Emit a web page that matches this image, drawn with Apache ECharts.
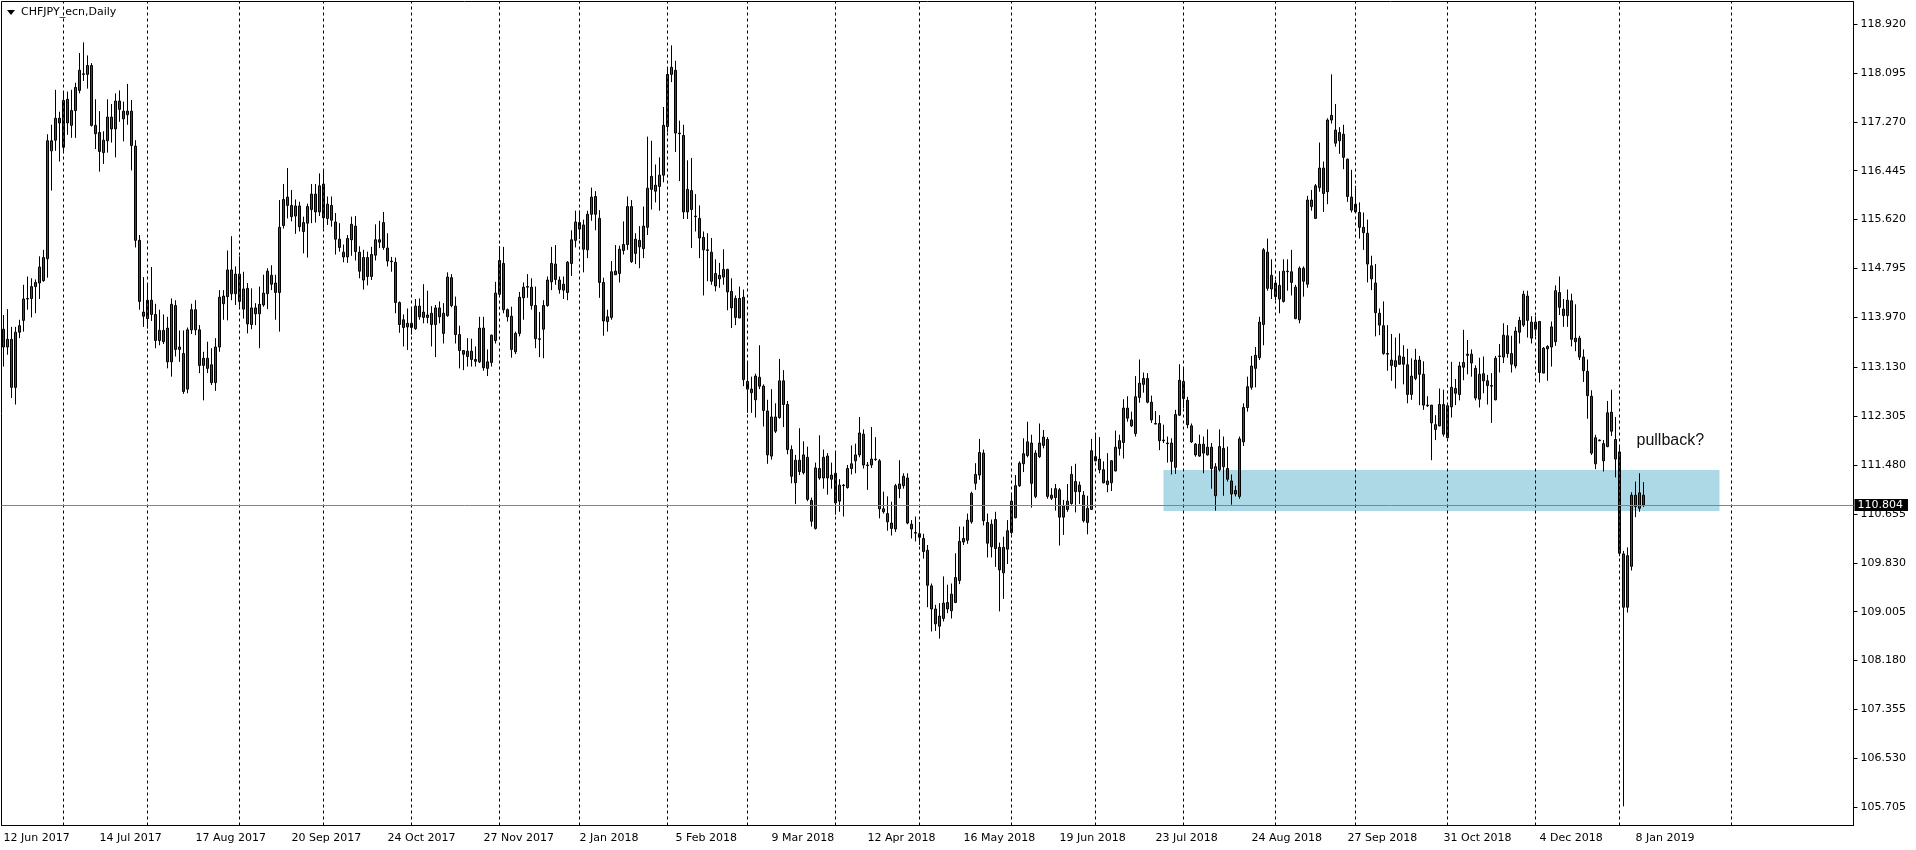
<!DOCTYPE html>
<html><head><meta charset="utf-8">
<script src="https://cdn.jsdelivr.net/npm/echarts/dist/echarts.min.js"></script>
<style>html,body{margin:0;padding:0;background:#fff;}#c{width:1916px;height:850px;}</style>
</head><body><div id="c"></div>
<script>
// ---- data ----
const openP = [
113.77,113.47,113.60,112.79,113.72,113.92,114.28,114.29,114.49,114.55,
114.59,114.96,116.78,116.96,117.33,116.84,117.65,117.21,117.46,117.80,
118.08,118.07,118.22,117.21,117.09,116.75,116.95,117.35,117.15,117.62,
117.45,117.39,117.45,116.86,115.27,114.06,113.95,114.26,114.02,113.58,
113.56,113.79,113.22,114.17,113.43,113.36,112.76,113.76,114.10,113.76,
113.16,113.28,113.17,112.87,113.47,114.20,114.32,114.77,114.37,114.70,
114.11,114.46,113.85,114.13,114.03,114.18,114.37,114.68,114.55,114.39,
115.52,116.00,115.86,115.68,115.85,115.57,115.56,115.79,116.05,115.75,
116.22,115.64,115.86,115.58,115.29,115.07,114.99,115.28,115.51,115.07,
114.60,114.98,114.66,115.02,115.28,115.57,115.14,114.92,114.90,114.22,
113.93,113.81,113.87,113.78,114.16,114.06,113.97,114.04,113.85,114.13,
113.70,114.00,114.64,114.16,113.68,113.41,113.31,113.40,113.26,113.22,
113.79,113.11,113.21,113.58,114.36,114.88,114.10,113.99,113.39,113.70,
114.30,114.48,114.48,114.17,113.61,113.77,114.17,114.57,114.87,114.60,
114.53,114.39,114.88,115.27,115.57,115.53,115.11,115.71,116.01,115.64,
114.56,113.90,113.97,114.69,114.71,115.10,115.20,115.84,115.05,115.27,
115.13,115.49,116.13,116.10,116.18,116.37,117.19,118.07,118.14,117.08,
117.04,115.75,116.11,115.68,115.64,115.32,115.11,115.07,114.50,114.68,
114.65,114.78,114.41,114.29,113.96,114.31,112.89,112.76,112.58,112.96,
112.81,112.39,111.63,112.05,112.28,112.90,112.50,111.74,111.18,111.56,
111.35,111.61,110.88,110.41,111.42,111.26,111.63,111.24,111.34,110.87,
111.14,111.10,111.42,111.55,111.65,112.00,111.48,111.48,111.58,111.55,
110.74,110.66,110.50,110.40,111.08,111.13,111.26,110.48,110.34,110.32,
110.24,110.04,109.44,109.05,108.76,108.89,109.16,109.02,109.16,109.53,
110.18,110.21,110.52,111.17,111.31,111.68,110.51,110.10,110.56,110.09,
109.66,110.06,110.34,110.59,111.13,111.50,111.64,111.85,110.95,111.62,
111.81,111.91,110.97,110.93,111.06,110.60,110.73,110.83,111.20,111.14,
110.97,110.51,110.73,111.55,111.58,111.40,111.15,111.18,111.38,111.76,
111.86,112.44,112.24,112.01,112.62,112.84,112.94,112.54,112.18,112.18,
111.90,111.85,111.85,111.44,112.32,112.89,112.57,112.14,111.83,111.63,
111.83,111.65,111.78,110.96,111.40,111.76,111.42,111.21,111.05,110.95,
111.87,112.45,112.79,113.11,113.29,113.85,115.07,114.45,114.32,114.51,
114.24,114.75,114.74,114.48,113.93,114.80,114.53,115.95,115.64,116.16,
116.49,116.09,117.30,117.13,116.95,117.06,116.64,116.00,115.88,115.74,
115.49,115.39,114.84,114.55,114.04,113.83,113.36,113.25,113.14,113.18,
113.30,113.17,112.67,112.94,113.25,113.01,112.49,112.49,112.08,112.14,
112.50,111.94,112.46,112.77,112.67,113.13,113.33,113.35,113.11,112.59,
113.02,112.90,112.82,112.58,113.32,113.30,113.66,113.36,113.15,113.72,
113.84,114.33,113.89,113.77,113.90,113.03,113.44,113.47,113.56,114.39,
114.11,114.00,114.25,113.62,113.62,113.30,113.06,112.64,111.50,111.90,
111.55,111.79,112.37,111.91,111.70,109.98,109.08,109.77,110.97,110.75,
110.97];
const closeP = [
113.47,113.60,112.79,113.72,113.83,114.28,114.29,114.49,114.56,114.82,
114.98,116.95,116.95,117.33,117.25,117.63,117.25,117.46,117.85,118.14,
118.07,118.22,117.21,117.07,116.77,116.96,117.35,117.15,117.62,117.48,
117.32,117.45,116.87,115.27,114.24,113.99,114.26,114.02,113.58,113.75,
113.75,113.22,114.19,113.43,113.47,112.72,113.76,114.10,113.76,113.16,
113.28,113.11,112.87,113.47,114.31,114.33,114.77,114.37,114.70,114.24,
114.45,113.86,114.13,114.03,114.19,114.38,114.75,114.53,114.39,115.49,
115.96,115.86,115.67,115.85,115.50,115.42,115.84,116.05,115.75,116.19,
115.65,115.88,115.61,115.29,115.15,114.99,115.30,115.54,115.08,114.75,
114.98,114.66,115.03,115.28,115.24,115.15,114.92,114.91,114.22,113.85,
113.80,113.87,113.80,114.16,113.98,113.97,114.01,113.85,114.13,113.98,
114.04,114.65,114.17,113.68,113.41,113.35,113.40,113.26,113.23,113.79,
113.12,113.22,113.67,114.38,114.93,114.10,113.98,113.43,113.70,114.31,
114.48,114.49,114.17,113.61,113.60,114.17,114.60,114.88,114.61,114.44,
114.43,114.90,115.28,115.58,115.46,115.12,115.71,116.00,115.71,114.56,
113.91,113.98,114.74,114.75,115.12,115.20,115.84,114.91,115.29,115.16,
115.51,116.15,116.35,116.20,116.37,117.21,118.07,118.19,117.08,117.07,
115.75,116.13,115.79,115.67,115.31,115.11,115.10,114.58,114.71,114.62,
114.78,114.40,114.13,113.97,114.29,112.92,112.76,112.70,112.98,112.81,
112.40,111.65,112.29,112.29,112.90,112.50,111.74,111.29,111.56,111.37,
111.65,110.90,110.53,111.43,111.26,111.61,111.26,111.31,110.84,111.14,
111.13,111.42,111.50,111.65,112.02,111.48,111.47,111.58,111.57,110.74,
110.69,110.52,110.41,111.13,111.16,111.29,110.50,110.40,110.33,110.26,
110.02,109.45,109.05,108.80,108.93,109.15,109.05,109.30,109.58,110.19,
110.24,110.55,111.00,111.32,111.69,110.54,110.16,110.48,110.07,109.71,
110.09,110.37,110.87,111.13,111.51,111.67,111.87,111.17,111.68,111.85,
111.95,110.95,110.92,111.08,110.60,110.79,110.87,111.32,111.03,111.03,
110.54,110.75,111.72,111.62,111.40,111.18,111.21,111.55,111.78,111.89,
112.44,112.27,112.14,112.63,112.86,112.94,112.54,112.24,112.17,111.89,
111.89,111.84,111.54,112.33,112.91,112.60,112.16,111.87,111.65,111.83,
111.68,111.78,111.42,111.45,111.79,111.45,111.24,110.99,110.99,111.92,
112.45,112.80,113.15,113.33,113.89,115.11,114.46,114.68,114.55,114.28,
114.75,114.74,114.56,113.95,114.80,114.58,115.95,115.84,116.19,116.49,
116.06,117.30,117.38,116.91,117.09,116.67,116.01,115.78,115.75,115.49,
115.40,114.87,114.62,114.05,113.84,113.36,113.35,113.16,113.24,113.32,
113.18,112.67,112.98,113.25,113.01,112.49,112.48,112.19,112.16,112.50,
112.00,112.48,112.79,112.69,113.15,113.21,113.35,113.20,112.61,113.01,
112.90,112.82,112.81,113.28,113.31,113.67,113.36,113.18,113.74,113.92,
114.36,113.92,113.62,113.89,113.04,113.45,113.48,113.81,114.42,114.14,
114.00,114.26,113.60,113.56,113.30,113.07,112.65,111.68,111.94,111.89,
111.84,112.36,112.05,111.58,109.99,109.08,109.95,110.97,110.78,111.01,
110.804];
const lowP = [
113.14,113.34,112.61,112.50,113.62,113.73,114.10,113.97,114.04,114.28,
114.57,114.64,116.11,116.78,116.60,116.74,117.05,117.00,117.00,117.75,
117.96,117.83,117.19,116.81,116.43,116.56,116.75,116.92,116.67,117.27,
116.94,117.22,116.45,115.15,114.10,113.81,113.78,113.91,113.45,113.50,
113.52,113.11,112.97,113.31,113.22,112.68,112.69,113.69,113.67,113.03,
112.57,113.03,112.83,112.73,113.39,113.93,113.92,114.26,114.18,114.15,
113.95,113.70,113.77,113.84,113.45,114.15,114.11,114.43,113.93,113.73,
115.47,115.64,115.59,115.38,115.42,115.05,114.98,115.56,115.57,115.68,
115.47,115.53,115.50,115.03,115.08,114.90,114.89,115.01,114.93,114.63,
114.44,114.51,114.60,114.93,115.14,115.11,114.83,114.74,114.04,113.71,
113.48,113.42,113.68,113.76,113.93,113.87,113.87,113.48,113.30,113.87,
113.53,113.98,114.14,113.53,113.11,113.08,113.14,113.14,113.14,113.20,
113.07,112.98,113.14,113.53,114.32,114.04,113.90,113.29,113.35,113.65,
113.93,114.30,114.10,113.45,113.30,113.28,114.15,114.43,114.52,114.37,
114.28,114.26,114.67,115.15,115.29,114.73,114.97,115.60,115.44,114.30,
113.66,113.73,113.93,114.69,114.56,115.03,115.11,114.89,114.87,114.80,
114.97,115.36,115.79,115.91,115.77,116.25,117.10,117.94,116.76,116.27,
115.63,115.63,115.14,115.42,114.97,114.34,114.58,114.52,114.41,114.47,
114.52,114.09,113.79,113.84,113.96,112.81,112.36,112.36,112.28,112.76,
112.13,111.50,111.57,112.02,112.26,112.12,111.66,111.17,110.82,111.31,
111.32,110.87,110.44,110.39,111.23,111.08,110.98,111.08,110.64,110.69,
110.61,111.08,111.32,111.34,111.61,111.42,111.06,111.43,111.55,110.58,
110.66,110.37,110.29,110.35,110.92,111.08,110.48,110.24,110.19,110.13,
109.90,109.08,108.67,108.68,108.55,108.84,108.98,108.89,109.15,109.47,
110.13,110.15,110.49,111.06,111.23,110.46,109.92,109.92,109.76,109.01,
109.22,109.81,110.31,110.58,111.11,111.36,111.61,110.76,110.92,111.60,
111.76,110.91,110.89,110.71,110.12,110.30,110.69,110.81,110.68,110.82,
110.51,110.31,110.72,111.54,111.34,111.17,111.02,111.04,111.37,111.64,
111.59,112.21,112.12,111.96,112.53,112.70,112.52,112.19,112.17,111.73,
111.85,111.52,111.32,111.33,112.31,112.44,112.10,111.85,111.62,111.62,
111.34,111.64,111.08,110.71,111.37,110.96,111.20,110.81,110.95,110.91,
111.80,112.38,112.75,112.79,113.25,113.50,114.42,114.28,114.26,114.04,
114.22,114.42,114.34,113.94,113.87,114.32,114.47,115.77,115.63,116.09,
115.75,115.88,117.24,116.85,116.73,116.47,115.92,115.74,115.73,115.30,
115.11,114.56,114.43,113.65,113.67,113.34,113.07,112.90,112.77,113.17,
112.84,112.52,112.58,112.91,112.49,112.41,112.46,111.56,111.90,112.13,
111.96,111.93,112.28,112.49,112.57,112.91,113.01,112.97,112.57,112.45,
112.69,112.50,112.19,112.57,113.04,113.20,113.29,113.04,113.11,113.53,
113.81,113.63,113.53,113.65,112.87,113.03,112.90,113.14,113.49,114.01,
113.81,113.81,113.48,113.40,113.25,112.88,112.26,111.65,111.41,111.88,
111.37,111.78,111.97,111.27,109.94,105.72,108.99,109.70,110.60,110.69,
110.77];
const highP = [
114.01,114.11,113.81,113.81,113.93,114.52,114.66,114.63,114.61,115.00,
115.11,117.06,117.22,117.81,117.44,117.76,117.78,117.81,117.93,118.43,
118.61,118.39,118.26,117.65,117.45,117.11,117.65,117.57,117.75,117.80,
117.61,117.91,117.64,116.96,115.36,114.65,114.55,114.82,114.20,114.10,
114.02,113.98,114.29,114.26,113.75,113.75,113.80,114.20,114.26,113.84,
113.39,113.56,113.45,113.62,114.43,114.43,115.10,115.34,114.83,115.00,
114.74,114.55,114.46,114.21,114.49,114.69,114.80,114.85,114.69,115.95,
116.22,116.49,116.12,115.96,115.92,115.67,115.89,116.22,116.22,116.40,
116.46,116.01,116.01,115.73,115.56,115.20,115.36,115.67,115.68,115.17,
115.11,115.08,115.16,115.54,115.60,115.75,115.39,114.99,114.98,114.24,
114.02,114.12,114.12,114.28,114.29,114.53,114.42,114.16,114.18,114.24,
114.21,114.73,114.70,114.32,113.83,113.42,113.62,113.61,113.48,113.98,
113.98,113.43,113.68,114.57,115.17,115.16,114.12,114.15,113.73,114.40,
114.56,114.70,114.63,114.49,114.06,114.26,114.66,115.16,115.19,114.66,
114.66,114.92,115.44,115.77,115.77,115.62,115.77,116.16,116.10,115.78,
114.64,114.10,114.92,115.19,115.18,115.59,116.01,115.95,115.39,115.51,
115.84,117.02,116.95,116.55,116.67,117.52,118.17,118.56,118.30,117.29,
117.22,116.62,116.66,116.05,115.86,115.42,115.39,115.31,114.95,114.89,
115.12,114.79,114.63,114.34,114.49,114.44,113.23,112.97,113.02,113.50,
112.84,112.58,112.76,112.52,113.27,113.08,112.56,111.81,111.65,112.10,
111.88,111.79,110.93,111.52,111.98,111.74,111.68,111.52,111.69,111.24,
111.16,111.48,111.81,111.84,112.29,112.08,111.53,112.12,111.95,111.58,
111.03,110.95,110.86,111.16,111.56,111.34,111.34,110.55,110.61,110.52,
110.32,110.13,109.48,109.12,109.15,109.60,109.46,109.48,109.99,110.44,
110.44,110.66,111.03,111.51,111.92,111.74,110.66,110.56,110.69,110.17,
110.27,110.55,111.01,111.31,111.54,111.93,112.21,111.99,111.73,112.18,
112.07,111.95,111.09,111.16,111.09,110.89,111.16,111.46,111.50,111.20,
111.04,110.96,111.92,112.00,111.95,111.54,111.68,111.56,112.06,111.99,
112.59,112.64,112.38,112.98,113.26,113.04,113.03,112.65,112.39,112.32,
112.16,111.96,111.93,112.41,113.18,113.11,112.63,112.18,111.85,111.99,
111.96,112.08,111.85,111.51,112.08,111.96,111.79,111.32,111.13,111.96,
112.52,112.97,113.32,113.47,113.98,115.14,115.30,114.95,114.60,114.75,
114.95,114.95,115.11,114.52,114.83,114.83,116.02,116.12,116.22,116.92,
116.60,117.33,118.07,117.57,117.18,117.22,116.65,116.46,116.19,115.91,
115.74,115.62,115.01,114.87,114.12,114.24,113.84,113.69,113.63,113.70,
113.50,113.44,113.28,113.44,113.32,113.23,112.64,112.49,112.32,112.77,
112.75,112.48,113.22,112.93,113.22,113.76,113.59,113.43,113.16,113.29,
113.31,113.00,113.03,113.32,113.52,113.87,113.84,113.66,113.81,113.98,
114.42,114.42,113.99,113.99,113.90,113.47,113.50,113.90,114.51,114.66,
114.28,114.44,114.37,114.19,113.66,113.43,113.26,112.74,111.99,111.91,
111.90,112.56,112.75,112.29,111.81,110.03,110.09,111.02,111.20,111.34,
111.19];

// y-axis tick labels as printed by the terminal
const yTickLabels = [118.920,118.095,117.270,116.445,115.620,114.795,113.970,113.130,
  112.305,111.480,110.655,109.830,109.005,108.180,107.355,106.530,105.705];
// trading calendar
const firstDay = '2017-06-12';
const skippedDays = ['2017-12-25','2018-01-01','2019-01-01'];
const slotCount = 463;              // bars + empty right margin
const labelEvery = 24;              // date label every 24 bars
const monthLineIdx = [15,36,59,80,102,124,144,166,186,208,229,252,273,295,318,338,361,383,404,432];
const lastPrice = 110.804;
const zoneX = [290, 429];
const zoneY = [111.395, 110.703];
const noteAt = [408, 111.89];
const noteText = 'pullback?';
const chartTitle = 'CHFJPY_ecn,Daily';
const yRange = [105.397, 119.300];

// ---- build ----
const MONTHS = ['Jan','Feb','Mar','Apr','May','Jun','Jul','Aug','Sep','Oct','Nov','Dec'];
function buildDays(n) {
  const out = [];
  const d = new Date(firstDay + 'T00:00:00Z');
  while (out.length < n) {
    const wd = d.getUTCDay();
    const s = d.toISOString().slice(0, 10);
    if (wd !== 0 && wd !== 6 && skippedDays.indexOf(s) < 0) out.push(s);
    d.setUTCDate(d.getUTCDate() + 1);
  }
  return out;
}
const days = buildDays(slotCount);
const nBars = openP.length;
const candles = openP.map((o, i) => [o, closeP[i], lowP[i], highP[i]]);

const FONT = 'DejaVu Sans';
const chart = echarts.init(document.getElementById('c'), null, {renderer: 'canvas'});
chart.setOption({
  animation: false,
  backgroundColor: '#fff',
  title: {
    text: chartTitle, left: 21, top: 7, padding: 0,
    textStyle: {fontFamily: FONT, fontSize: 11, fontWeight: 'normal', color: '#000'}
  },
  graphic: [{type: 'polygon', shape: {points: [[7, 10], [15, 10], [11, 15]]}, style: {fill: '#000'}, z: 100}],
  grid: {left: 1.5, right: 62.5, top: 1.5, bottom: 24.5, show: true, borderColor: '#000', borderWidth: 1, backgroundColor: '#fff'},
  xAxis: {
    type: 'category', data: days, boundaryGap: true,
    axisLine: {show: true, lineStyle: {color: '#000', width: 1}},
    axisTick: {show: false},
    splitLine: {show: false},
    axisLabel: {
      interval: labelEvery - 1, align: 'left', margin: 7,
      fontFamily: FONT, fontSize: 11, color: '#000',
      formatter: (v, idx) => {
        if (idx >= nBars) return '';
        const p = v.split('-');
        return (+p[2]) + ' ' + MONTHS[+p[1] - 1] + ' ' + p[0];
      }
    }
  },
  yAxis: {
    type: 'value', position: 'right', min: yRange[0], max: yRange[1],
    splitLine: {show: false},
    axisLine: {show: true, lineStyle: {color: '#000', width: 1}},
    axisTick: {show: true, length: 4, customValues: yTickLabels, lineStyle: {color: '#000'}},
    axisLabel: {customValues: yTickLabels, margin: 7, fontFamily: FONT, fontSize: 11, color: '#000',
      formatter: v => v.toFixed(3)}
  },
  series: [{
    type: 'candlestick',
    data: candles,
    barWidth: 2,
    silent: true,
    itemStyle: {color: '#008000', color0: '#e00000', borderColor: '#000', borderColor0: '#000', borderWidth: 1},
    markArea: {
      silent: true,
      itemStyle: {color: '#add8e6'},
      data: [[{xAxis: zoneX[0], yAxis: zoneY[0]}, {xAxis: zoneX[1], yAxis: zoneY[1]}]]
    },
    markLine: {
      silent: true, animation: false, symbol: ['none', 'none'], precision: 3,
      label: {show: false},
      lineStyle: {color: '#000', type: [3, 3], width: 1},
      data: monthLineIdx.map(i => ({xAxis: i})).concat([{
        yAxis: lastPrice,
        lineStyle: {color: '#778899', type: 'solid', width: 1},
        label: {show: true, position: 'end', distance: 1, formatter: lastPrice.toFixed(3),
          backgroundColor: '#000', color: '#fff', fontFamily: FONT, fontSize: 11, lineHeight: 11,
          padding: [1, 5, 0, 3]}
      }])
    },
    markPoint: {
      silent: true, animation: false,
      data: [{coord: noteAt, symbol: 'circle', symbolSize: 0,
        label: {show: true, position: 'right', distance: 1, formatter: noteText,
          fontFamily: 'Liberation Sans', fontSize: 16, color: '#111'}}]
    }
  }]
});
</script>
</body></html>
